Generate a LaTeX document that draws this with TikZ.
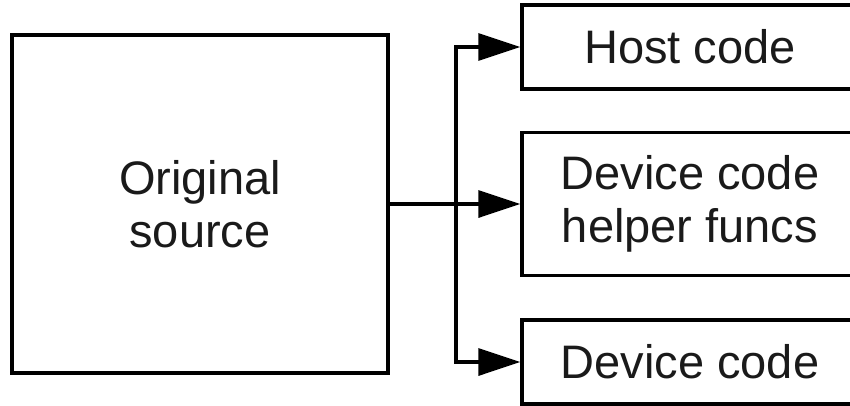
\documentclass[tikz,border=0pt]{standalone}
\usepackage{fontspec}
\setmainfont{Liberation Sans}
\usetikzlibrary{arrows.meta}
\definecolor{txt}{HTML}{1A1A1A}
\begin{document}
\begin{tikzpicture}[x=1pt,y=-1pt,
  box/.style={draw=black,line width=3.4pt,inner sep=0pt,align=center,text=txt,
    font=\fontsize{47}{53}\selectfont},
  arr/.style={line width=3.4pt,-{Triangle[length=42pt,width=27pt]}}]
\clip (0,0) rectangle (850,405);
\fill[white] (0,0) rectangle (850,405);
\node[box,minimum width=376pt,minimum height=338pt] (orig) at (200,204) {Original\\source};
\node[box,minimum width=336pt,minimum height=143pt] (help) at (690,204) {Device code\\helper funcs};
\node[box,minimum width=336pt,minimum height=84pt] (host) at (690,47) {Host code};
\node[box,minimum width=336pt,minimum height=84pt] (dev) at (690,362) {Device code};
\coordinate (j) at (456,204);
\draw[arr] (orig.east) -- (help.west);
\draw[arr] (j) |- (host.west);
\draw[arr] (j) |- (dev.west);
\end{tikzpicture}
\end{document}
